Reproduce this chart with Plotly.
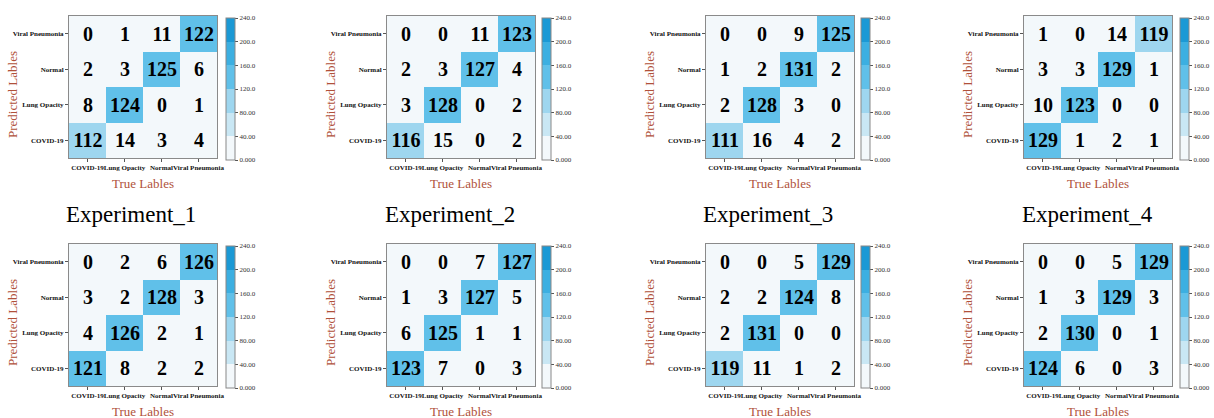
import plotly.graph_objects as go

# Class labels (x = true, y = predicted; y listed bottom -> top)
classes = ["COVID-19", "Lung Opacity", "Normal", "Viral Pneumonia"]

# Confusion matrices, rows listed bottom -> top: COVID-19, Lung Opacity, Normal, Viral Pneumonia
exp_1 = [[112, 14, 3, 4], [8, 124, 0, 1], [2, 3, 125, 6], [0, 1, 11, 122]]
exp_2 = [[116, 15, 0, 2], [3, 128, 0, 2], [2, 3, 127, 4], [0, 0, 11, 123]]
exp_3 = [[111, 16, 4, 2], [2, 128, 3, 0], [1, 2, 131, 2], [0, 0, 9, 125]]
exp_4 = [[129, 1, 2, 1], [10, 123, 0, 0], [3, 3, 129, 1], [1, 0, 14, 119]]
exp_5 = [[121, 8, 2, 2], [4, 126, 2, 1], [3, 2, 128, 3], [0, 2, 6, 126]]
exp_6 = [[123, 7, 0, 3], [6, 125, 1, 1], [1, 3, 127, 5], [0, 0, 7, 127]]
exp_7 = [[119, 11, 1, 2], [2, 131, 0, 0], [2, 2, 124, 8], [0, 0, 5, 129]]
exp_8 = [[124, 6, 0, 3], [2, 130, 0, 1], [1, 3, 129, 3], [0, 0, 5, 129]]

matrices = [exp_1, exp_2, exp_3, exp_4, exp_5, exp_6, exp_7, exp_8]
titles = ["Experiment_1", "Experiment_2", "Experiment_3", "Experiment_4"]

cbar_vals = [0, 40, 80, 120, 160, 200, 240]
cbar_text = ["0.000", "40.00", "80.00", "120.0", "160.0", "200.0", "240.0"]

W, H = 1214, 418
SERIF = "Liberation Serif"
LABEL_RED = "#b0513a"

# Stepped blue colour scale, one band per 40 counts
bands = ["#f3f8fb", "#c9e7f4", "#9ed6ef", "#60c0e9", "#3cafe1", "#1b99d5"]
colorscale = []
for i, c in enumerate(bands):
    colorscale.append([i / len(bands), c])
    colorscale.append([(i + 1) / len(bands), c])

# Panel geometry in pixels
col_left = [69, 387, 706, 1024]
panel_w = 148
row_top = [16, 244]
panel_h = 142
cbar_left = [226, 542, 861, 1180]


def px(x):
    return x / W


def py(y):
    return 1 - y / H


fig = go.Figure()
annotations = []

for k, z in enumerate(matrices):
    r, c = divmod(k, 4)
    idx = k + 1
    xa = "x" if idx == 1 else f"x{idx}"
    ya = "y" if idx == 1 else f"y{idx}"
    left, top = col_left[c], row_top[r]

    fig.add_trace(go.Heatmap(
        z=z, x=classes, y=classes,
        xaxis=xa, yaxis=ya,
        zmin=0, zmax=240, colorscale=colorscale,
        texttemplate="%{z}",
        textfont=dict(family=SERIF, size=20, color="black", weight="bold"),
        hoverinfo="skip",
        colorbar=dict(
            x=px(cbar_left[c]), xanchor="left", xref="paper",
            y=py(top + 2 + panel_h / 2), yanchor="middle",
            len=panel_h, lenmode="pixels",
            thickness=9, thicknessmode="pixels",
            outlinecolor="#888888", outlinewidth=1,
            xpad=0, ypad=0,
            tickvals=cbar_vals, ticktext=cbar_text,
            ticks="outside", ticklen=3, tickcolor="#555555",
            tickfont=dict(family=SERIF, size=7, color="#333333"),
        ),
    ))

    axis_common = dict(
        type="category", showgrid=False, zeroline=False,
        showline=True, mirror=True, linecolor="#8a8a8a", linewidth=1,
        ticks="outside", ticklen=3, tickcolor="#555555", tickangle=0,
        tickfont=dict(family=SERIF, size=7, color="#111111", weight="bold"),
        automargin=False, fixedrange=True,
    )
    fig.update_layout({
        ("xaxis" if idx == 1 else f"xaxis{idx}"): dict(
            axis_common,
            domain=[px(left), px(left + panel_w)],
            anchor=ya, categoryorder="array", categoryarray=classes,
        ),
        ("yaxis" if idx == 1 else f"yaxis{idx}"): dict(
            axis_common,
            domain=[py(top + panel_h), py(top)],
            anchor=xa, categoryorder="array", categoryarray=classes,
        ),
    })

    # Axis titles
    annotations.append(dict(
        text="True Lables", xref="paper", yref="paper",
        x=px(left + panel_w / 2), y=py(top + panel_h + 25),
        xanchor="center", yanchor="middle", showarrow=False,
        font=dict(family=SERIF, size=13, color=LABEL_RED),
    ))
    annotations.append(dict(
        text="Predicted Lables", xref="paper", yref="paper",
        x=px(left - 57), y=py(top + 79),
        xanchor="center", yanchor="middle", showarrow=False, textangle=-90,
        font=dict(family=SERIF, size=13, color=LABEL_RED),
    ))

# Experiment captions under the first row
caption_x = [131, 450, 768, 1087]
for t, cx in zip(titles, caption_x):
    annotations.append(dict(
        text=t, xref="paper", yref="paper",
        x=px(cx), y=py(215), xanchor="center", yanchor="middle",
        showarrow=False, font=dict(family=SERIF, size=23, color="black"),
    ))

fig.update_layout(
    width=W, height=H,
    margin=dict(l=0, r=0, t=0, b=0),
    paper_bgcolor="white", plot_bgcolor="white",
    showlegend=False,
    annotations=annotations,
)

fig.write_html("out.html")
